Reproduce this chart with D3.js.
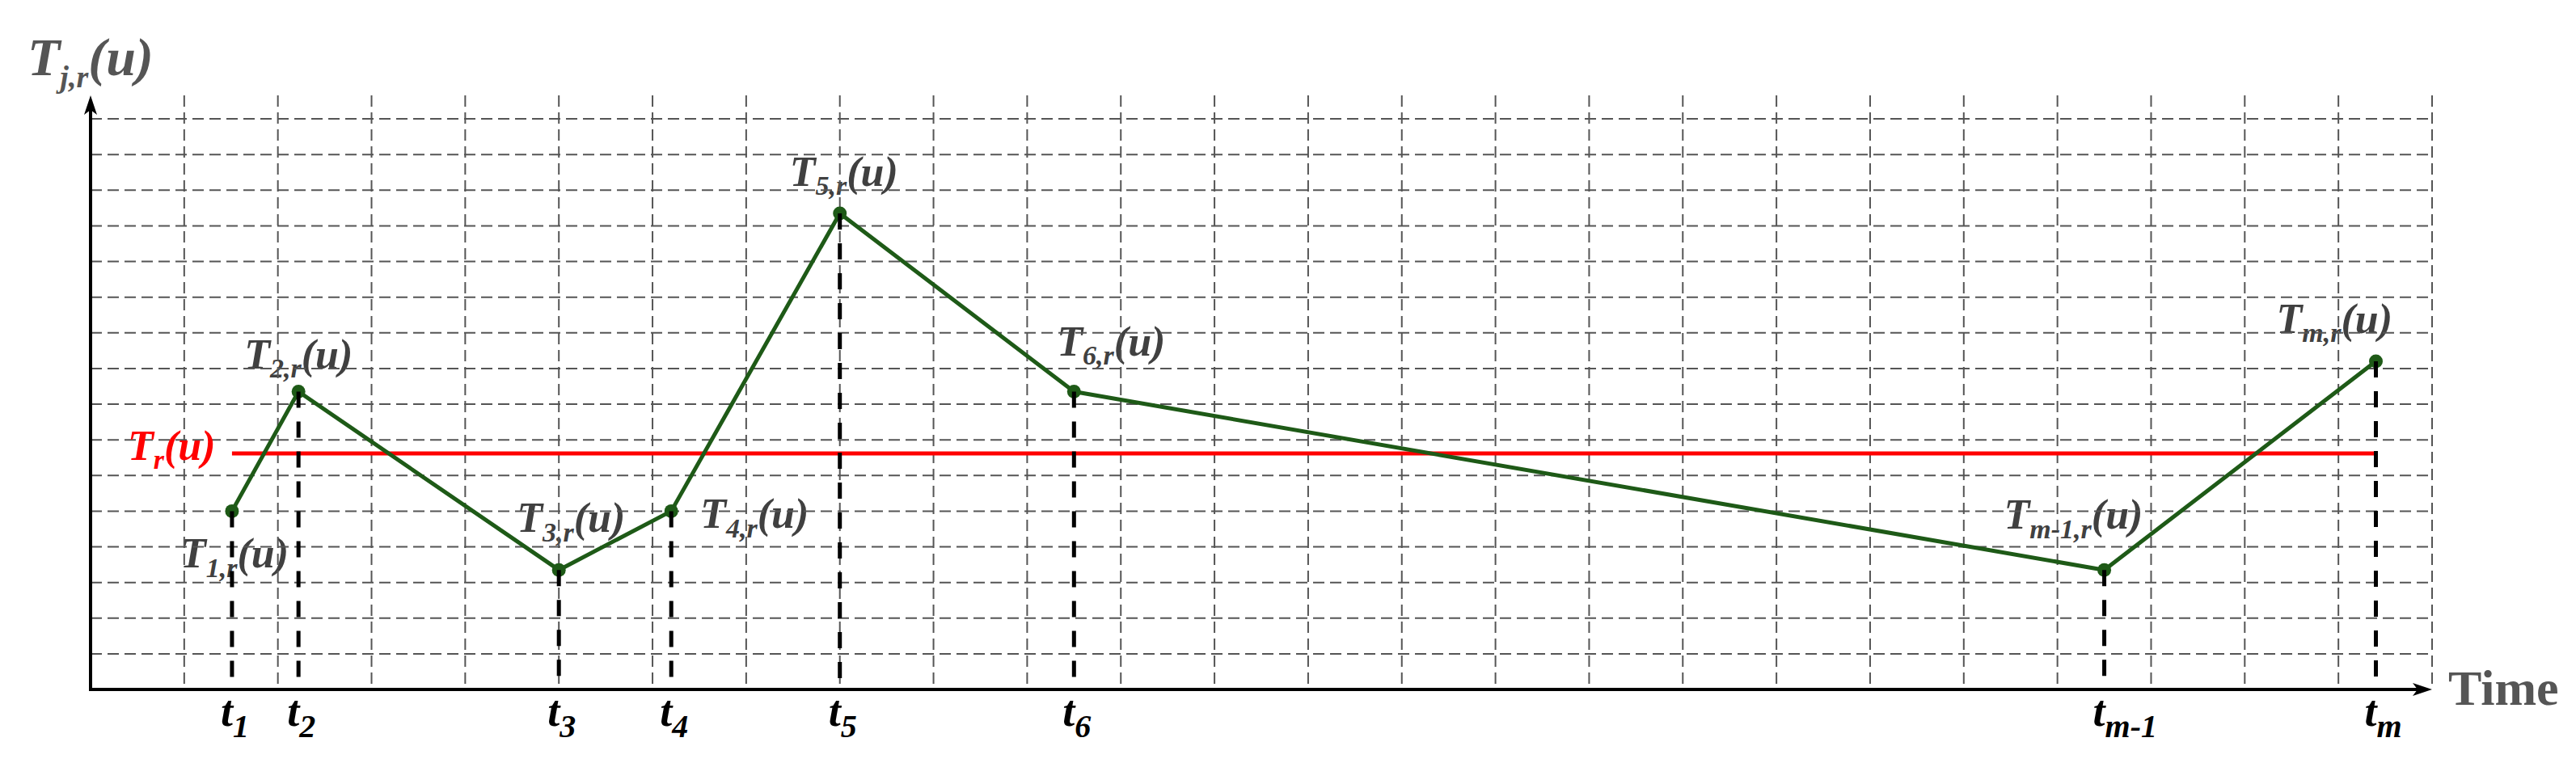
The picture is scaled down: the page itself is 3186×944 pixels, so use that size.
<!DOCTYPE html>
<html lang="en">
<head>
    <meta charset="UTF-8" />
    <title>T_j,r(u) against time</title>
    <script src="https://d3js.org/d3.v7.min.js"></script>
    <style>
        body, html {
            margin: 0;
            padding: 0;
            background: #fff;
        }
        svg {
            display: block;
        }
        .lbl {
            font-family: "Liberation Serif", "Times New Roman", serif;
            font-weight: bold;
            font-style: italic;
        }
        .grid line {
            stroke: #555;
            stroke-width: 2px;
            stroke-dasharray: 14, 7;
        }
    </style>
</head>
<body>
    <div id="chart"></div>

    <script>
        // time stamps t_1 ... t_m (in grid columns) and their sub-index
        const timeSubs = ["1", "2", "3", "4", "5", "6", "m-1", "m"];
        const timeValues = [1.51, 2.22, 5.0, 6.2, 8.0, 10.5, 21.5, 24.4];
        // T_{j,r}(u) at each time stamp (in grid rows)
        const tjrValues = [5.0, 8.35, 3.35, 5.0, 13.35, 8.35, 3.35, 9.2];
        // reference level T_r(u)
        const trValue = 6.62;
        // grid lines
        const gridCols = d3.range(1, 26);
        const gridRows = d3.range(1, 17);

        const points = timeValues.map((t, i) => ({ t: t, v: tjrValues[i], sub: timeSubs[i] }));

        // where each point label sits, relative to the point
        const labelOffsets = [[-64, 70], [-67, -29], [-52, -47], [36, 21], [-62, -34], [-21, -45], [-124, -51], [-123, -35]];

        const width = 3186;
        const height = 944;
        const green = "#1e5a17";

        const x = d3.scaleLinear().domain([0, 25]).range([112, 3008]);
        const y = d3.scaleLinear().domain([0, 16]).range([853, 147]);

        const svg = d3.select("#chart").append("svg")
            .attr("width", width)
            .attr("height", height);

        // T + subscript + (u)
        function mathLabel(g, sub, px, py, size, subSize, color) {
            const t = g.append("text")
                .attr("class", "lbl")
                .attr("x", px)
                .attr("y", py)
                .attr("fill", color)
                .style("font-size", size + "px");
            t.append("tspan").text("T");
            t.append("tspan").attr("dy", size * 0.22).style("font-size", subSize + "px").text(sub);
            t.append("tspan").attr("dy", -size * 0.22).text("(u)");
            return t;
        }

        // point labels (under the grid)
        const labels = svg.append("g");
        points.forEach((d, i) => {
            mathLabel(labels, d.sub + ",r", x(d.t) + labelOffsets[i][0], y(d.v) + labelOffsets[i][1], 52, 34, "#404040");
        });

        // grid
        const grid = svg.append("g").attr("class", "grid");
        grid.selectAll(".gx")
            .data(gridCols)
            .enter().append("line")
            .attr("x1", d => x(d)).attr("x2", d => x(d))
            .attr("y1", 118).attr("y2", y(0));
        grid.selectAll(".gy")
            .data(gridRows)
            .enter().append("line")
            .attr("x1", x(0)).attr("x2", x(25))
            .attr("y1", d => y(d)).attr("y2", d => y(d));

        // axes with arrows
        svg.append("line")
            .attr("x1", x(0)).attr("x2", x(0))
            .attr("y1", y(0) + 2).attr("y2", 124)
            .attr("stroke", "#000").attr("stroke-width", 4);
        svg.append("line")
            .attr("x1", x(0) - 2).attr("x2", x(25) - 6)
            .attr("y1", y(0)).attr("y2", y(0))
            .attr("stroke", "#000").attr("stroke-width", 4);
        svg.append("path")
            .attr("d", `M${x(0)},118 L${x(0) - 8},142 L${x(0)},136 L${x(0) + 8},142 Z`)
            .attr("fill", "#000");
        svg.append("path")
            .attr("d", `M${x(25)},${y(0)} L${x(25) - 24},${y(0) - 8} L${x(25) - 18},${y(0)} L${x(25) - 24},${y(0) + 8} Z`)
            .attr("fill", "#000");

        // axis titles
        mathLabel(svg, "j,r", 34, 93, 66, 38, "#555");
        svg.append("text")
            .attr("x", 3028)
            .attr("y", 872)
            .attr("fill", "#555")
            .style("font-family", "'Liberation Serif', 'Times New Roman', serif")
            .style("font-weight", "bold")
            .style("font-size", "62px")
            .text("Time");

        // reference level T_r(u)
        svg.append("line")
            .attr("x1", x(timeValues[0])).attr("x2", x(timeValues[timeValues.length - 1]))
            .attr("y1", y(trValue)).attr("y2", y(trValue))
            .attr("stroke", "#ff0000").attr("stroke-width", 5);
        mathLabel(svg, "r", 158, y(trValue) + 8, 52, 34, "#ff0000");

        // T_{j,r}(u) polyline
        const line = d3.line().x(d => x(d.t)).y(d => y(d.v));
        svg.append("path")
            .datum(points)
            .attr("d", line)
            .attr("fill", "none")
            .attr("stroke", green)
            .attr("stroke-width", 5)
            .attr("stroke-linejoin", "round");

        svg.selectAll(".pt")
            .data(points)
            .enter().append("circle")
            .attr("cx", d => x(d.t))
            .attr("cy", d => y(d.v))
            .attr("r", 8.5)
            .attr("fill", green);

        // drop lines to the time axis
        svg.selectAll(".drop")
            .data(points)
            .enter().append("line")
            .attr("x1", d => x(d.t)).attr("x2", d => x(d.t))
            .attr("y1", d => y(d.v)).attr("y2", y(0))
            .attr("stroke", "#000")
            .attr("stroke-width", 5)
            .attr("stroke-dasharray", "20,17");

        // t_k labels
        points.forEach(d => {
            const t = svg.append("text")
                .attr("class", "lbl")
                .attr("x", x(d.t) - 14)
                .attr("y", 898)
                .attr("fill", "#000")
                .style("font-size", "54px");
            t.append("tspan").text("t");
            t.append("tspan").attr("dy", 14).style("font-size", "40px").text(d.sub);
        });
    </script>
</body>
</html>
